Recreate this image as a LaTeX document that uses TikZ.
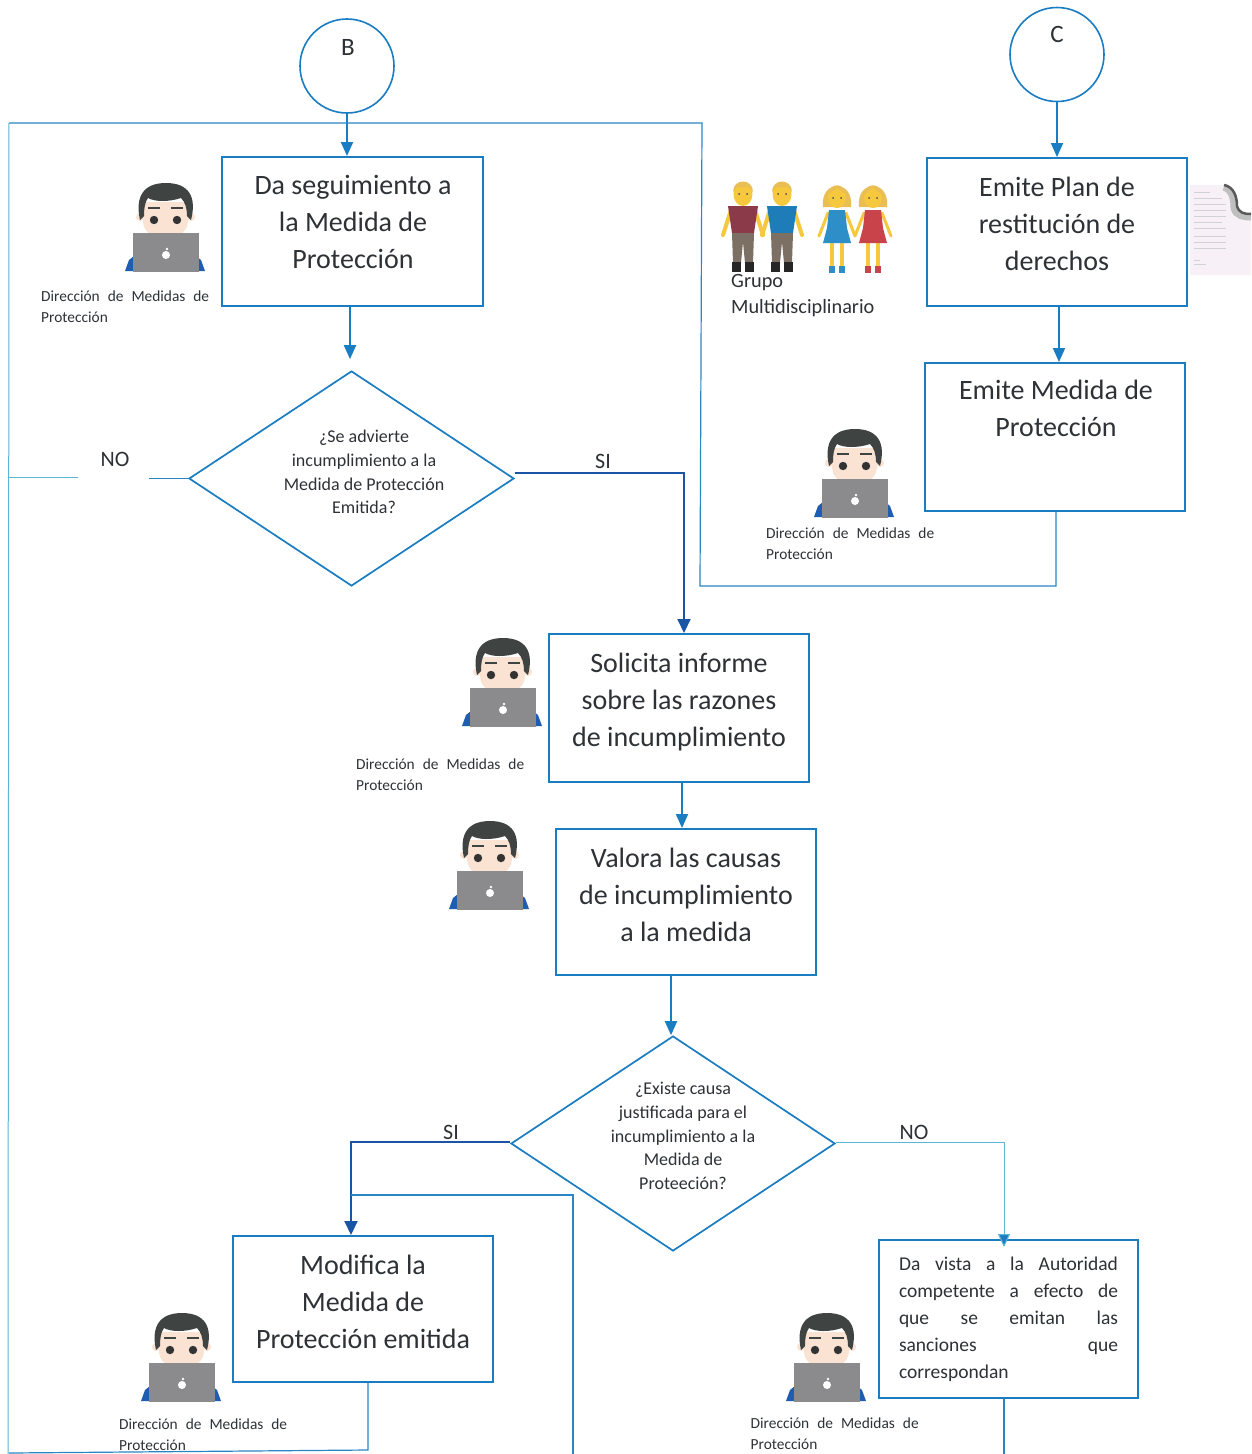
\documentclass[tikz,border=0pt]{standalone}
\usepackage{fontspec}
\setmainfont{Carlito}
\usetikzlibrary{shapes.geometric,arrows.meta,calc}
\definecolor{boxblue}{HTML}{1A7DC2}
\definecolor{lineblue}{HTML}{2A85C4}
\definecolor{paleblue}{HTML}{5DB5D5}
\definecolor{deepblue}{HTML}{1A55A5}
\definecolor{inkc}{HTML}{2E3236}
\definecolor{skinc}{HTML}{FAE3D2}
\definecolor{hairc}{HTML}{3F4442}
\definecolor{lapc}{HTML}{8B8B8E}
\definecolor{shirtb}{HTML}{1F5DB0}
\definecolor{yel}{HTML}{F6C83E}
\definecolor{blond}{HTML}{E9BE55}
\definecolor{shirtr}{HTML}{8B3A4A}
\definecolor{shirtc}{HTML}{1E7CB8}
\definecolor{dressc}{HTML}{2E8FC8}
\definecolor{dressr}{HTML}{C8434A}
\definecolor{pantsg}{HTML}{7C7064}
\tikzset{
  x=1pt,y=-1pt,
  flowbox/.style={draw=boxblue,line width=2pt,rectangle,inner sep=0pt},
  boxtext/.style={font=\fontsize{28}{37}\selectfont,text=inkc,align=center,inner sep=0pt},
  startcirc/.style={draw=boxblue,line width=1.6pt,circle,inner sep=0pt,minimum size=94pt},
  decis/.style={draw=boxblue,line width=1.7pt,diamond,inner sep=0pt},
  dectext/.style={font=\fontsize{18}{23.7}\selectfont,text=inkc,align=center,inner sep=0pt},
  lab/.style={font=\fontsize{22}{25}\selectfont,text=inkc,inner sep=0pt},
  role/.style={font=\fontsize{15.4}{20.7}\selectfont,text=inkc,align=left,inner sep=0pt,anchor=north west},
  arr/.style={draw=boxblue,line width=1.9pt,-{Triangle[length=14pt,width=12pt]}},
  darr/.style={draw=deepblue,line width=2pt,-{Triangle[length=14pt,width=13pt]}},
  thin line/.style={draw=paleblue,line width=1pt},
  bare/.style={draw=lineblue,line width=1.2pt},
  pics/worker/.style={code={
    \fill[shirtb] (-40,-1) -- (-36,-12) -- (-26,-20) -- (26,-20) -- (36,-12) -- (40,-1) -- cycle;
    \fill[skinc] (-25,-55) circle (4);
    \fill[skinc] (26,-55) circle (4);
    \fill[skinc] (-22,-70) -- (23,-70) -- (23,-50) .. controls (22,-38) and (10,-34) .. (1,-34) .. controls (-10,-34) and (-21,-38) .. (-22,-50) -- cycle;
    \fill[hairc] (-25,-52) .. controls (-30,-75) and (-22,-89) .. (1,-89) .. controls (24,-89) and (32,-75) .. (26,-52) -- (22,-56) .. controls (22,-64) and (20,-70) .. (16,-74) .. controls (4,-70) and (-10,-70) .. (-17,-74) .. controls (-20,-70) and (-21,-64) .. (-21,-56) -- cycle;
    \fill[hairc] (-17,-65) rectangle (-5,-63);
    \fill[hairc] (6,-65) rectangle (18,-63);
    \fill[black!80] (-11,-52) circle (4.2);
    \fill[black!80] (12,-52) circle (4.2);
    \fill[lapc] (-32,-39) rectangle (34,0);
    \fill[white] (1,-17) circle (4);
    \fill[white] (2,-23) circle (1.3);
  }},
  pics/manfig/.style={code={
    \draw[yel,line width=4pt,line cap=round] (-12,-62) -- (-20,-37);
    \draw[yel,line width=4pt,line cap=round] (12,-62) -- (20,-37);
    \fill[#1] (-15,-66) -- (15,-66) -- (11,-39) -- (-11,-39) -- cycle;
    \fill[pantsg] (-11,-39) -- (11,-39) -- (10,-9) -- (2,-9) -- (0,-30) -- (-2,-9) -- (-10,-9) -- cycle;
    \fill[black!85] (-11,-10) rectangle (-2,0);
    \fill[black!85] (2,-10) rectangle (11,0);
    \fill[yel] (0,-78) ellipse (9.5 and 12);
    \fill[blond] (-10,-80) .. controls (-10,-94) and (10,-94) .. (10,-80) -- (6,-85) -- (-6,-85) -- cycle;
    \fill[black!70] (-4,-78) circle (1);
    \fill[black!70] (4,-78) circle (1);
  }},
  pics/womfig/.style={code={
    \draw[yel,line width=3pt,line cap=round] (-9,-60) -- (-18,-37);
    \draw[yel,line width=3pt,line cap=round] (9,-60) -- (18,-37);
    \draw[yel,line width=4pt] (-5,-32) -- (-5,-5);
    \draw[yel,line width=4pt] (5,-32) -- (5,-5);
    \fill[#1] (-8,-63) -- (8,-63) -- (10,-45) -- (14,-30) -- (-14,-30) -- (-10,-45) -- cycle;
    \fill[#1] (-8,-7) rectangle (-2,0);
    \fill[#1] (2,-7) rectangle (8,0);
    \fill[blond] (-14,-66) .. controls (-17,-94) and (17,-94) .. (14,-66) -- cycle;
    \fill[yel] (0,-75) ellipse (9 and 10);
    \fill[blond] (-10,-78) .. controls (-6,-91) and (6,-91) .. (10,-78) -- (0,-85) -- cycle;
    \fill[black!70] (-4,-75) circle (1);
    \fill[black!70] (4,-75) circle (1);
  }}
}
\newcommand{\rolelabel}{\makebox[168pt][s]{Dirección de Medidas de}\\Protección}
\begin{document}
\begin{tikzpicture}
\useasboundingbox (0,0) rectangle (1251,1454);
\fill[white] (0,0) rectangle (1251,1454);

% stray document fragment
\fill[violet!6] (1190,185) -- (1222,185) .. controls (1234,188) and (1236,198) .. (1236,208) .. controls (1238,214) and (1244,214) .. (1251,214) -- (1251,275) -- (1190,275) -- cycle;
\foreach \yy/\ee in {192/1210,198/1222,204/1226,210/1226,216/1226,222/1222,228/1226,236/1226,242/1226,248/1226,260/1200,264/1206}
  \draw[gray!35,line width=1pt] (1194,\yy) -- (\ee,\yy);
\draw[gray!50,line width=7pt] (1224,187) .. controls (1232,190) and (1234,198) .. (1234,208) .. controls (1236,216) and (1244,217) .. (1251,217);
\draw[black!65,line width=2.5pt] (1224,185) .. controls (1234,187) and (1237,197) .. (1237,206) .. controls (1239,213) and (1244,214) .. (1251,214);

% start circles
\node[startcirc] (cB) at (347,66) {};
\node[font=\fontsize{25}{30}\selectfont,text=inkc,inner sep=0pt] (tB) at (348,47) {B};
\node[startcirc] (cC) at (1057,54.5) {};
\node[font=\fontsize{25}{30}\selectfont,text=inkc,inner sep=0pt] (tC) at (1057,34) {C};

% process boxes
\node[flowbox,minimum width=261pt,minimum height=149pt] (b1) at (352.5,231.5) {};
\node[boxtext] (tb1) at (353,222) {Da seguimiento a\\la Medida de\\Protección};
\node[flowbox,minimum width=260pt,minimum height=148pt] (b3) at (679,708) {};
\node[boxtext] (tb3) at (679,702) {Solicita informe\\sobre las razones\\de incumplimiento};
\node[flowbox,minimum width=260pt,minimum height=146pt] (b4) at (686,902) {};
\node[boxtext] (tb4) at (686,895) {Valora las causas\\de incumplimiento\\a la medida};
\node[flowbox,minimum width=260pt,minimum height=146pt] (b5) at (363,1309) {};
\node[boxtext] (tb5) at (363,1302) {Modifica la\\Medida de\\Protección emitida};
\node[flowbox,minimum width=260pt,minimum height=148pt] (b7) at (1057,232) {};
\node[boxtext] (tb7) at (1057,224) {Emite Plan de\\restitución de\\derechos};
\node[flowbox,minimum width=260pt,minimum height=148pt] (b8) at (1055,437) {};
\node[boxtext] (tb8) at (1056,408.5) {Emite Medida de\\Protección};
\node[flowbox,minimum width=259pt,minimum height=158pt,font=\fontsize{19.5}{27}\selectfont,text=inkc] (b6) at (1008.5,1319) {%
  \parbox{219pt}{\makebox[219pt][s]{Da vista a la Autoridad}\\\makebox[219pt][s]{competente a efecto de}\\\makebox[219pt][s]{que se emitan las}\\\makebox[219pt][s]{sanciones que}\\correspondan}};

% decisions
\node[decis,minimum width=325pt,minimum height=215pt] (d1) at (351.5,478.5) {};
\node[dectext] (t1) at (364,472) {¿Se advierte\\incumplimiento a la\\Medida de Protección\\Emitida?};
\node[decis,minimum width=324pt,minimum height=215pt] (d2) at (673,1143.5) {};
\node[dectext] (t2) at (683,1136) {¿Existe causa\\justificada para el\\incumplimiento a la\\Medida de\\Proteeción?};

% branch labels
\node[lab] (no1) at (115,459) {NO};
\node[lab] (si1) at (603,461) {SI};
\node[lab] (si2) at (451,1132) {SI};
\node[lab] (no2) at (914,1132) {NO};

% role labels
\node[role] (r1) at (41,291) {\rolelabel};
\node[role] (r2) at (766,528) {\rolelabel};
\node[role] (r3) at (356,759) {\rolelabel};
\node[role] (r5) at (119,1419) {\rolelabel};
\node[role] (r6) at (750.5,1418) {\rolelabel};
\node[font=\fontsize{20.3}{26}\selectfont,text=inkc,align=left,inner sep=0pt,anchor=north west] (grupo) at (731,274.5) {Grupo\\Multidisciplinario};

% people
\pic at (165,272) {worker};
\pic at (854,518) {worker};
\pic at (502,727) {worker};
\pic at (489,910) {worker};
\pic at (181,1402) {worker};
\pic at (826,1402) {worker};
\pic at (743,272) {manfig=shirtr};
\pic at (782,272) {manfig=shirtc};
\pic at (837,273) {womfig=dressc};
\pic at (873,273) {womfig=dressr};

% free corner points
\coordinate (topL) at (9,123);
\coordinate (topR) at (702,123);
\coordinate (retB) at (700,586);
\coordinate (retC) at (1056,586);
\coordinate (leftEnd) at (8,1454);
\coordinate (noL) at (8,477);
\coordinate (si1c) at (684,473);
\coordinate (si2c) at (351,1142);
\coordinate (no2c) at (1004,1142);
\coordinate (branch) at (351,1195);
\coordinate (branchR) at (573,1195);
\coordinate (branchE) at (573,1454);
\coordinate (b5d) at (368,1450);
\coordinate (b5l) at (9,1453);
\coordinate (b6e) at (1004,1454);

% connectors
\draw[arr] (cB.south) -- (cB.south |- b1.north);
\draw[arr] ([xshift=-2.5pt]b1.south) -- ([xshift=-2.5pt,yshift=11pt]b1.south |- d1.north);
\draw[arr] (cC.south) -- (cC.south |- b7.north);
\draw[arr] ([xshift=2pt]b7.south) -- ([xshift=2pt]b7.south |- b8.north);
\draw[arr] ([xshift=3pt]b3.south) -- ([xshift=3pt]b3.south |- b4.north);
\draw[arr] ([xshift=-15pt]b4.south) -- ([xshift=-15pt]b4.south |- d2.north);
\draw[darr] (d1.east |- si1c) -- (si1c) -- (si1c |- b3.north);
\draw[darr] (d2.west |- si2c) -- (si2c) -- (si2c |- b5.north);
\draw[arr,draw=paleblue,line width=1pt,-{Triangle[length=13pt,width=12pt,fill=boxblue]}] (d2.east |- no2c) -- (no2c) -- ([yshift=-8pt]no2c |- b6.north);
\draw[bare] (d1.west) -- ([xshift=19pt]no1.east |- d1.west);
\draw[thin line] ([xshift=-22pt]no1.west |- noL) -- (noL);
\draw[bare] (topL) -- (topR) -- (retB) -- (retC) -- (retC |- b8.south);
\draw[thin line] (topL) -- (leftEnd);
\draw[bare] (branch) -- (branchR) -- (branchE);
\draw[bare] (b5.south -| b5d) -- (b5d) -- (b5l);
\draw[bare] (b6e |- b6.south) -- (b6e);
\end{tikzpicture}
\end{document}
